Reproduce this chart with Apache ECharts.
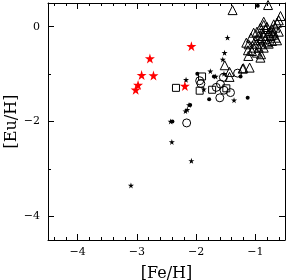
<!DOCTYPE html>
<html><head><meta charset="utf-8">
<script src="https://cdn.jsdelivr.net/npm/echarts@6/dist/echarts.min.js"></script>
<style>html,body{margin:0;padding:0;background:#fff}#c{width:286px;height:280px}</style>
</head><body><div id="c"></div>
<script>
// ---- data ([Fe/H], [Eu/H]) ----
var redStars = [[-2.08,-0.41],[-2.78,-0.67],[-2.72,-1.03],[-2.92,-1.02],[-2.98,-1.23],[-3.02,-1.33],[-2.19,-1.25]];
var blackStars = [[-1.47,-0.23],[-1.52,-0.55],[-1.55,-0.69],[-1.76,-0.94],[-1.53,-0.99],[-1.67,-1.05],[-2.17,-1.12],[-1.87,-1.32],[-1.36,-1.55],[-2.12,-1.65],[-2.15,-1.75],[-2.18,-1.78],[-2.43,-2.0],[-2.41,-2.43],[-2.08,-2.83],[-3.10,-3.35]];
var dots = [[-0.96,0.44],[-1.98,-0.99],[-1.70,-1.05],[-1.25,-1.05],[-1.78,-1.53],[-1.13,-1.50],[-2.40,-2.0],[-2.10,-1.65]];
var circles = [[-1.30,-0.98],[-1.54,-1.07],[-1.94,-1.14],[-1.92,-1.20],[-1.59,-1.21],[-1.66,-1.28],[-1.53,-1.34],[-1.42,-1.39],[-1.60,-1.50],[-2.16,-2.03]];
var squares = [[-2.34,-1.29],[-1.90,-1.05],[-1.94,-1.35],[-1.73,-1.33],[-1.49,-1.30]];
var triangles = [[-1.385,0.35],[-0.786,0.457],[-0.576,0.225],[-0.605,0.135],[-0.859,0.036],[-0.915,-0.02],[-0.803,-0.006],[-0.719,-0.055],[-0.661,-0.02],[-0.973,-0.105],[-1.029,-0.126],[-0.888,-0.126],[-0.775,-0.126],[-0.69,-0.126],[-0.605,-0.105],[-0.944,-0.196],[-0.859,-0.196],[-0.746,-0.196],[-0.661,-0.232],[-1.0,-0.287],[-0.915,-0.287],[-0.83,-0.266],[-0.719,-0.301],[-0.634,-0.287],[-1.153,-0.337],[-0.973,-0.358],[-0.888,-0.371],[-0.775,-0.358],[-1.029,-0.442],[-0.944,-0.442],[-0.859,-0.442],[-1.058,-0.512],[-0.973,-0.547],[-0.905,-0.581],[-0.915,-0.653],[-1.215,-0.884],[-1.097,-0.863],[-1.436,-0.954],[-1.436,-1.059],[-1.517,-0.813],[-1.203,-0.876],[-1.119,-0.617],[-1.125,-0.497],[-1.114,-0.371],[-1.075,-0.232],[-0.69,0.05],[-0.634,0.084],[-0.859,0.105],[-0.83,-0.05],[-0.74,-0.09],[-0.9,-0.24],[-0.8,-0.33],[-0.7,-0.17]];
var xMajor = [-4,-3,-2,-1];
var xMinor = [-4.4,-4.2,-3.8,-3.6,-3.4,-3.2,-2.8,-2.6,-2.4,-2.2,-1.8,-1.6,-1.4,-1.2,-0.8,-0.6];
var yMajor = [0,-2,-4];
var yMinor = [-1,-3];
var yLabels = [0,-2,-4];

var STAR = 'path://M50,0 L61,35 L98,35 L68,57 L79,91 L50,70 L21,91 L32,57 L2,35 L39,35 Z';
var FONT = 'DejaVu Serif';
function fmt(v){ return String(v).replace('-', '\u2212'); }
function xa(pos, ticks, len, labels, line){
  return {type:'value', position:pos, min:-4.5, max:-0.5,
    axisLine:{show:line, onZero:false, lineStyle:{color:'#000', width:1}},
    axisTick:{show:true, inside:true, length:len, customValues:ticks, lineStyle:{color:'#000'}},
    axisLabel:{show:!!labels, customValues:labels||[], formatter:fmt, color:'#000', fontFamily:FONT, fontSize:11, margin:7},
    splitLine:{show:false}};
}
function ya(pos, ticks, len, labels, line){
  return {type:'value', position:pos, min:-4.5, max:0.5,
    axisLine:{show:line, onZero:false, lineStyle:{color:'#000', width:1}},
    axisTick:{show:true, inside:true, length:len, customValues:ticks, lineStyle:{color:'#000'}},
    axisLabel:{show:!!labels, customValues:labels||[], formatter:fmt, color:'#000', fontFamily:FONT, fontSize:11, margin:8},
    splitLine:{show:false}};
}
var xAxes = [xa('bottom', xMajor, 6, xMajor, true), xa('bottom', xMinor, 3, null, false), xa('top', xMajor, 6, null, true), xa('top', xMinor, 3, null, false)];
xAxes[0].name = '[Fe/H]'; xAxes[0].nameLocation = 'middle'; xAxes[0].nameGap = 26; xAxes[0].nameMoveOverlap = false;
xAxes[0].nameTextStyle = {fontFamily:FONT, fontSize:16, color:'#000'};
var yAxes = [ya('left', yMajor, 6, yLabels, true), ya('left', yMinor, 3, null, false), ya('right', yMajor, 6, null, true), ya('right', yMinor, 3, null, false)];
yAxes[0].name = '[Eu/H]'; yAxes[0].nameLocation = 'middle'; yAxes[0].nameGap = 28; yAxes[0].nameMoveOverlap = false;
yAxes[0].nameTextStyle = {fontFamily:FONT, fontSize:16, color:'#000'};

function sc(data, symbol, size, fill, stroke, z){
  return {type:'scatter', data:data, symbol:symbol, symbolSize:size, xAxisIndex:0, yAxisIndex:0, z:z,
    itemStyle:{color:fill, borderColor:stroke, borderWidth: stroke ? 1 : 0, opacity:1}, emphasis:{disabled:true}, silent:true};
}
var chart = echarts.init(document.getElementById('c'), null, {renderer:'canvas'});
chart.setOption({
  animation:false, backgroundColor:'#fff',
  grid:{left:48, top:3, width:237, height:237, containLabel:false, outerBoundsMode:'none'},
  xAxis:xAxes, yAxis:yAxes,
  series:[
    sc(triangles, 'triangle', 9, 'rgba(255,255,255,0)', '#000', 2),
    sc(circles, 'circle', 8, 'rgba(255,255,255,0)', '#000', 3),
    sc(squares, 'rect', 7, 'rgba(255,255,255,0)', '#000', 4),
    sc(dots, 'circle', 4, '#000', null, 5),
    sc(blackStars, STAR, 6, '#000', null, 6),
    sc(redStars, STAR, 10, '#ff0000', null, 7)
  ]
});
</script></body></html>
